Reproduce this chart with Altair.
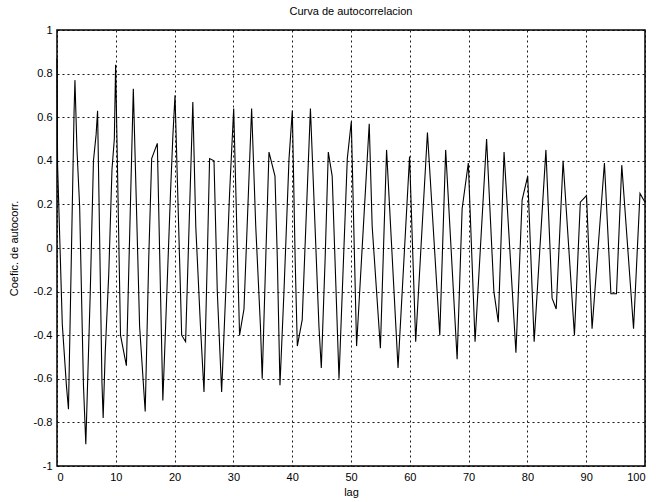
import altair as alt
import pandas as pd

# vertices of the autocorrelation curve (lag, coefficient)
lags = [0.0, 0.1, 0.9, 1.6, 1.95, 2.9, 3.05, 3.4, 3.85, 4.5, 4.9, 5.65, 6.2, 6.65, 6.9,
        7.65, 7.85, 8.2, 8.8, 9.35, 9.75, 9.97, 10.8, 11.8, 12.98, 14.05, 15.0, 15.6,
        16.1, 17.06, 17.6, 18.0, 18.47, 19.3, 19.7, 20.07, 21.0, 21.2, 21.87, 23.1,
        23.6, 24.4, 25.0, 25.56, 25.95, 26.7, 27.26, 28.0, 28.7, 29.35, 30.05, 31.05,
        31.8, 33.1, 33.8, 34.6, 34.9, 35.5, 36.05, 37.07, 37.47, 37.92, 38.6, 39.46,
        40.02, 40.5, 40.87, 41.7, 43.1, 44.55, 44.95, 45.6, 46.14, 46.8, 47.96, 49.37,
        50.05, 50.95, 53.1, 53.6, 55.0, 56.05, 58.0, 59.96, 61.0, 63.0, 65.1, 66.1,
        68.05, 68.9, 69.95, 71.1, 73.06, 74.3, 75.05, 76.03, 78.05, 79.1, 80.05, 81.15,
        83.15, 84.2, 84.9, 86.07, 88.0, 89.0, 90.05, 91.0, 93.1, 94.2, 95.15, 96.05,
        98.05, 99.15, 100.0]
coefs = [0.87, 0.38, -0.35, -0.63, -0.74, 0.62, 0.77, 0.45, 0.19, -0.63, -0.90, -0.21,
         0.40, 0.52, 0.63, -0.62, -0.78, -0.48, -0.12, 0.36, 0.50, 0.84, -0.40, -0.54,
         0.73, -0.36, -0.75, -0.05, 0.41, 0.48, -0.20, -0.70, -0.36, 0.25, 0.51, 0.70,
         -0.20, -0.40, -0.43, 0.67, 0.10, -0.36, -0.66, -0.05, 0.41, 0.40, -0.20, -0.66,
         -0.20, 0.25, 0.64, -0.40, -0.28, 0.64, 0.10, -0.36, -0.60, -0.05, 0.44, 0.33,
         -0.05, -0.63, -0.20, 0.41, 0.63, -0.05, -0.45, -0.33, 0.64, -0.36, -0.55, -0.05,
         0.44, 0.33, -0.60, 0.41, 0.58, -0.45, 0.57, 0.10, -0.46, 0.45, -0.55, 0.42,
         -0.43, 0.53, -0.40, 0.45, -0.51, 0.18, 0.39, -0.43, 0.50, -0.20, -0.34, 0.44,
         -0.48, 0.22, 0.33, -0.43, 0.45, -0.23, -0.28, 0.40, -0.40, 0.21, 0.24, -0.37,
         0.39, -0.21, -0.21, 0.38, -0.37, 0.25, 0.21]

x_ticks = [0, 10, 20, 30, 40, 50, 60, 70, 80, 90, 100]
y_ticks = [-1, -0.8, -0.6, -0.4, -0.2, 0, 0.2, 0.4, 0.6, 0.8, 1]

df = pd.DataFrame({"lag": lags, "coef": coefs})

FONT = "Liberation Sans Narrow, Arial Narrow, Liberation Sans, Arial"

common = dict(grid=True, ticks=False, domain=False, gridColor="black",
              gridDash=[2, 3], gridOpacity=0.9, gridWidth=1, labelFont=FONT,
              titleFont=FONT, labelFontSize=11, titleFontSize=11, labelColor="black",
              titleColor="black", titleFontWeight="normal")

chart = alt.Chart(df).mark_line(color="black", strokeWidth=1.1).encode(
    x=alt.X("lag:Q", scale=alt.Scale(domain=[0, 100], nice=False),
            axis=alt.Axis(values=x_ticks, title="lag", labelPadding=5,
                          titlePadding=4, **common)),
    y=alt.Y("coef:Q", scale=alt.Scale(domain=[-1, 1], nice=False),
            axis=alt.Axis(values=y_ticks, title="Coefic. de autocorr.",
                          labelPadding=5, titlePadding=14,
                          labelExpr="toString(round(datum.value*10)/10)", **common)),
).properties(
    width=588, height=436,
    title=alt.TitleParams("Curva de autocorrelacion", fontSize=11, fontWeight="normal",
                          font=FONT, color="black", offset=7),
    autosize=alt.AutoSizeParams(type="none"),
    padding={"left": 57, "top": 30, "right": 11, "bottom": 36},
).configure(background="white").configure_view(
    stroke="black", strokeWidth=1.5
)

chart.save("out.html", embed_options={"renderer": "svg", "actions": False})
